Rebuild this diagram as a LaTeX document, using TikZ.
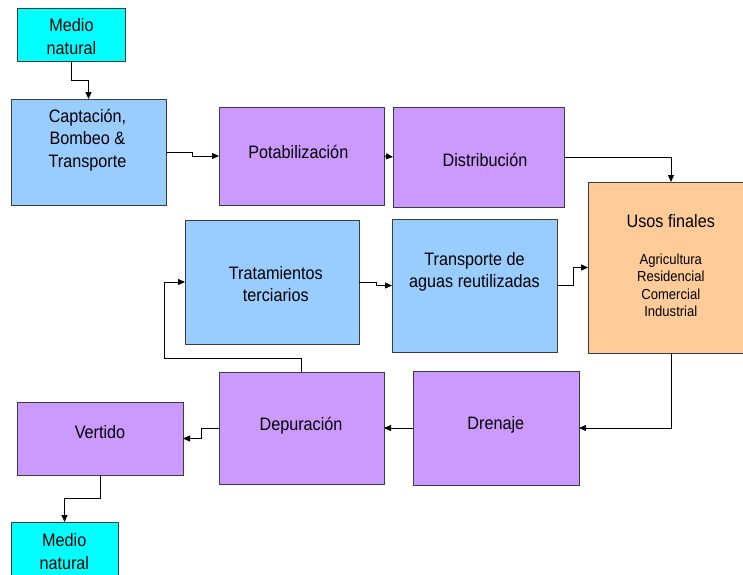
\documentclass[tikz,border=0pt]{standalone}
\usepackage{fontspec}
\setmainfont{Liberation Sans}[FakeStretch=0.9]
\usetikzlibrary{arrows.meta,calc}
\definecolor{cyanf}{RGB}{0,255,255}
\definecolor{bluef}{RGB}{153,204,255}
\definecolor{purplef}{RGB}{204,153,255}
\definecolor{orangef}{RGB}{255,204,153}
\definecolor{edge}{RGB}{60,60,60}
\begin{document}
\begin{tikzpicture}[x=1pt,y=-1pt,
  box/.style={draw=edge,line width=0.9pt,inner sep=0pt,outer sep=0pt,anchor=north west},
  cyanbox/.style={box,fill=cyanf},
  bluebox/.style={box,fill=bluef},
  purplebox/.style={box,fill=purplef},
  orangebox/.style={box,fill=orangef},
  txt/.style={anchor=base,font=\fontsize{18}{22.5}\selectfont,align=flush center,text width=170pt,inner sep=0pt},
  smalltxt/.style={anchor=base,font=\fontsize{14.5}{17.6}\selectfont,align=flush center,text width=150pt,inner sep=0pt},
  arr/.style={draw=black,line width=1pt,-{Triangle[length=7pt,width=6pt]}}]
\useasboundingbox (0,0) rectangle (743,574);
% boxes
\node[cyanbox,minimum width=108pt,minimum height=53pt] (mt) at (17,8) {};
\node[bluebox,minimum width=155pt,minimum height=106pt] (cap) at (11,99) {};
\node[purplebox,minimum width=165pt,minimum height=98pt] (pot) at (219,107) {};
\node[purplebox,minimum width=171pt,minimum height=100pt] (dis) at (393,107) {};
\node[orangebox,minimum width=166pt,minimum height=171pt] (uso) at (588,182) {};
\node[bluebox,minimum width=174pt,minimum height=124pt] (ter) at (185,220) {};
\node[bluebox,minimum width=165pt,minimum height=133pt] (tra) at (392,219) {};
\node[purplebox,minimum width=165pt,minimum height=112pt] (dep) at (219,372) {};
\node[purplebox,minimum width=166pt,minimum height=114pt] (dre) at (413,371) {};
\node[purplebox,minimum width=166pt,minimum height=73pt] (ver) at (17,402) {};
\node[cyanbox,minimum width=107pt,minimum height=53pt] (mb) at (11,522) {};
% texts
\node[txt] (mtT) at (71.5,31.7) {Medio\\natural};
\node[txt] (capT) at (87.5,122.3) {Captación,\\Bombeo \&\\Transporte};
\node[txt] (potT) at (298.3,158.5) {Potabilización};
\node[txt] (disT) at (485,166) {Distribución};
\node[txt] (usoT) at (670.8,227.3) {Usos finales};
\node[smalltxt] (usoS) at (670.8,264) {Agricultura\\Residencial\\Comercial\\Industrial};
\node[txt] (terT) at (275.8,279) {Tratamientos\\terciarios};
\node[txt] (traT) at (474.5,265) {Transporte de\\aguas reutilizadas};
\node[txt] (depT) at (301,430) {Depuración};
\node[txt] (dreT) at (495.8,429) {Drenaje};
\node[txt] (verT) at (100,438.3) {Vertido};
\node[txt] (mbT) at (64.3,546.7) {Medio\\natural};
% connectors
\draw[arr] (mt.south) -- ++(0,19) -| (cap.north);
\draw[arr] (cap.east) -- ++(26,0) |- (pot.west);
\draw[arr] (pot.east) -- (dis.west);
\draw[arr] (dis.east) -| (uso.north);
\draw[arr] (tra.east) -- ++(16,0) |- (uso.west);
\draw[arr] (ter.east) -- ++(17,0) |- (tra.west);
\draw[arr] (dep.north) -- ++(0,-14) -| ($(ter.west)+(-21,0)$) -- (ter.west);
\draw[arr] (uso.south) |- (dre.east);
\draw[arr] (dre.west) -- (dep.east);
\draw[arr] (dep.west) -- ++(-18,0) |- (ver.east);
\draw[arr] (ver.south) -- ++(0,23) -| (mb.north);
\end{tikzpicture}
\end{document}
